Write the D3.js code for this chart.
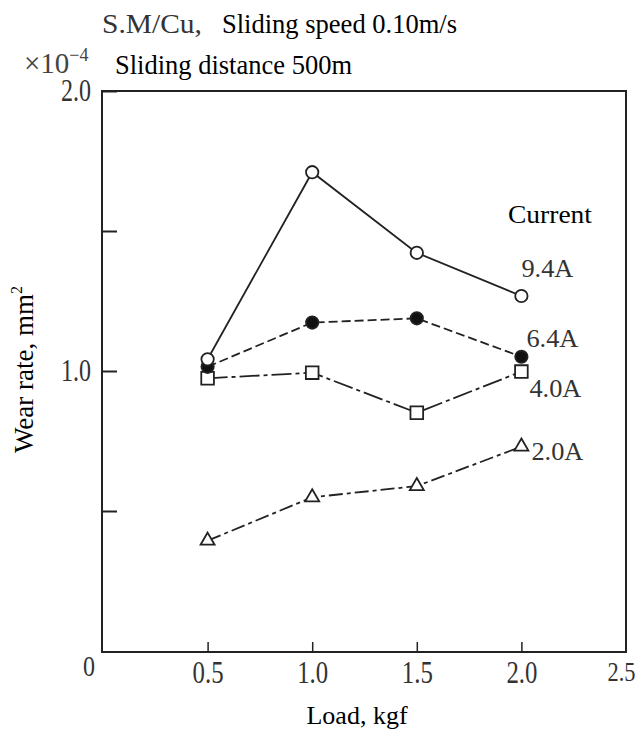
<!DOCTYPE html>
<html>
<head>
<meta charset="utf-8">
<script src="https://cdn.jsdelivr.net/npm/d3@7"></script>
<style>
    body { margin: 0; background: #fff; }
    svg { display: block; }
</style>
</head>
<body>
<svg id="graphe" width="642" height="733"></svg>
<script>
// DONNÉES
const charges = [0.5, 1.0, 1.5, 2.0]            // Load, kgf
const courants = ['9.4A', '6.4A', '4.0A', '2.0A']
const usure94 = [1.042, 1.71, 1.422, 1.268]     // ×10^-4 mm²
const usure64 = [1.015, 1.173, 1.188, 1.051]
const usure40 = [0.974, 0.994, 0.851, 0.998]
const usure20 = [0.394, 0.549, 0.589, 0.730]
const ticksX = [0.5, 1.0, 1.5, 2.0, 2.5]
const ticksY = [0.5, 1.0, 1.5, 2.0]
const etiquettesY = [1.0, 2.0]

/**
 * On dessine le graphique d'usure.
 */
function dessinerGraphe(){
    const svg = d3.select('#graphe')
    const police = '"Liberation Serif", "Times New Roman", serif'

    // ÉCHELLES
    const x = d3.scaleLinear().domain([0, 2.5]).range([103, 626])
    const y = d3.scaleLinear().domain([0, 2.0]).range([651, 91])

    // Cadre
    svg.append('rect')
        .attr('x', x(0) - 1)
        .attr('y', y(2.0))
        .attr('width', x(2.5) - x(0) + 1)
        .attr('height', y(0) - y(2.0) + 1)
        .attr('fill', 'none')
        .attr('stroke', '#222')
        .attr('stroke-width', 2)

    // Axe Y : taquets vers l'intérieur, seuls 1.0 et 2.0 sont écrits
    const axeY = svg.append('g')
        .attr('transform', `translate(${x(0) - 1},0)`)
        .call(d3.axisLeft(y)
            .tickValues(ticksY)
            .tickSize(-15)
            .tickPadding(11)
            .tickFormat(d => etiquettesY.includes(d) ? d3.format('.1f')(d) : ''))
    axeY.select('.domain').remove()
    axeY.selectAll('line').attr('stroke', '#222').attr('stroke-width', 2)
    axeY.selectAll('text')
        .attr('font-family', police)
        .attr('font-size', 31)
        .attr('textLength', d => etiquettesY.includes(d) ? 30 : null)
        .attr('lengthAdjust', 'spacingAndGlyphs')
        .attr('fill', '#333')

    // Axe X
    const axeX = svg.append('g')
        .attr('transform', `translate(0,${y(0) + 1})`)
        .call(d3.axisBottom(x)
            .tickValues(ticksX)
            .tickSize(-10)
            .tickPadding(9)
            .tickFormat(d3.format('.1f')))
    axeX.select('.domain').remove()
    axeX.selectAll('line').attr('stroke', '#222').attr('stroke-width', 1.5)
    axeX.selectAll('text')
        .attr('font-family', police)
        .attr('font-size', 31)
        .attr('textLength', 31)
        .attr('lengthAdjust', 'spacingAndGlyphs')
        .attr('fill', '#333')
    // Le 2.5 touche le bord droit : un peu plus petit et décalé
    axeX.selectAll('text').filter(d => d === 2.5)
        .attr('font-size', 28)
        .attr('textLength', 28)
        .attr('dx', -5)
    // Le dernier taquet se confond avec le cadre
    axeX.selectAll('.tick line').filter(d => d === 2.5).remove()

    // Le zéro commun, un peu à gauche et plus haut
    svg.append('text')
        .attr('x', x(0) - 14)
        .attr('y', 676)
        .attr('text-anchor', 'middle')
        .attr('font-family', police)
        .attr('font-size', 29)
        .attr('textLength', 12)
        .attr('lengthAdjust', 'spacingAndGlyphs')
        .attr('fill', '#333')
        .text('0')

    // COURBES
    const series = [
        { nom: courants[0], valeurs: usure94, tirets: null, marque: 'rond' },
        { nom: courants[1], valeurs: usure64, tirets: '9,4', marque: 'plein' },
        { nom: courants[2], valeurs: usure40, tirets: '20,4,4,4', marque: 'carre' },
        { nom: courants[3], valeurs: usure20, tirets: '14,4,4,4', marque: 'triangle' }
    ]
    const ligne = d3.line().x(d => x(d[0])).y(d => y(d[1]))

    series.forEach(s => {
        svg.append('path')
            .datum(charges.map((c, i) => [c, s.valeurs[i]]))
            .attr('d', ligne)
            .attr('fill', 'none')
            .attr('stroke', '#222')
            .attr('stroke-width', 1.8)
            .attr('stroke-dasharray', s.tirets)
    })

    // Marques : on dessine du bas vers le haut pour que le rond vide passe devant
    const symboles = {
        rond: d3.symbol(d3.symbolCircle, 120),
        plein: d3.symbol(d3.symbolCircle, 120),
        carre: d3.symbol(d3.symbolSquare, 160),
        triangle: d3.symbol(d3.symbolTriangle, 85)
    }
    series.slice().reverse().forEach(s => {
        svg.append('g').selectAll('path')
            .data(charges.map((c, i) => [c, s.valeurs[i]]))
            .join('path')
            .attr('transform', d => `translate(${x(d[0])},${y(d[1])})`)
            .attr('d', symboles[s.marque])
            .attr('fill', s.marque === 'plein' ? '#111' : '#fff')
            .attr('stroke', '#222')
            .attr('stroke-width', 1.8)
    })

    // Étiquettes des courants, placées près du dernier point
    const decalages = [[0, -19], [5, -10], [8, 25], [10, 13]]
    series.forEach((s, i) => {
        svg.append('text')
            .attr('x', x(charges[3]) + decalages[i][0])
            .attr('y', y(s.valeurs[3]) + decalages[i][1])
            .attr('font-family', police)
            .attr('font-size', 26)
            .attr('textLength', 52)
            .attr('lengthAdjust', 'spacingAndGlyphs')
            .attr('fill', '#333')
            .text(s.nom)
    })
    svg.append('text')
        .attr('x', 508)
        .attr('y', 223)
        .attr('font-family', police)
        .attr('font-size', 25)
        .attr('textLength', 84)
        .attr('lengthAdjust', 'spacingAndGlyphs')
        .text('Current')

    // TITRES
    svg.append('text')
        .attr('x', 102)
        .attr('y', 33)
        .attr('font-family', police)
        .attr('font-size', 28)
        .attr('textLength', 100)
        .attr('lengthAdjust', 'spacingAndGlyphs')
        .attr('fill', '#333')
        .text('S.M/Cu,')
    svg.append('text')
        .attr('x', 222)
        .attr('y', 33)
        .attr('font-family', police)
        .attr('font-size', 27)
        .attr('textLength', 235)
        .attr('lengthAdjust', 'spacingAndGlyphs')
        .text('Sliding speed 0.10m/s')
    svg.append('text')
        .attr('x', 115)
        .attr('y', 74)
        .attr('font-family', police)
        .attr('font-size', 27)
        .attr('textLength', 237)
        .attr('lengthAdjust', 'spacingAndGlyphs')
        .text('Sliding distance 500m')

    const facteur = svg.append('text')
        .attr('x', 24)
        .attr('y', 73)
        .attr('font-family', police)
        .attr('font-size', 29)
        .attr('fill', '#444')
    facteur.append('tspan').text('×10')
    facteur.append('tspan')
        .attr('dy', -12)
        .attr('font-size', 18)
        .text('−4')

    // Titres des axes
    const titreY = svg.append('text')
        .attr('transform', 'translate(33,453) rotate(-90)')
        .attr('font-family', police)
        .attr('font-size', 27)
    titreY.append('tspan').text('Wear rate, mm')
    titreY.append('tspan')
        .attr('dy', -11)
        .attr('font-size', 16)
        .text('2')

    svg.append('text')
        .attr('x', 357)
        .attr('y', 724)
        .attr('text-anchor', 'middle')
        .attr('font-family', police)
        .attr('font-size', 26)
        .text('Load, kgf')
}

dessinerGraphe()
</script>
</body>
</html>
